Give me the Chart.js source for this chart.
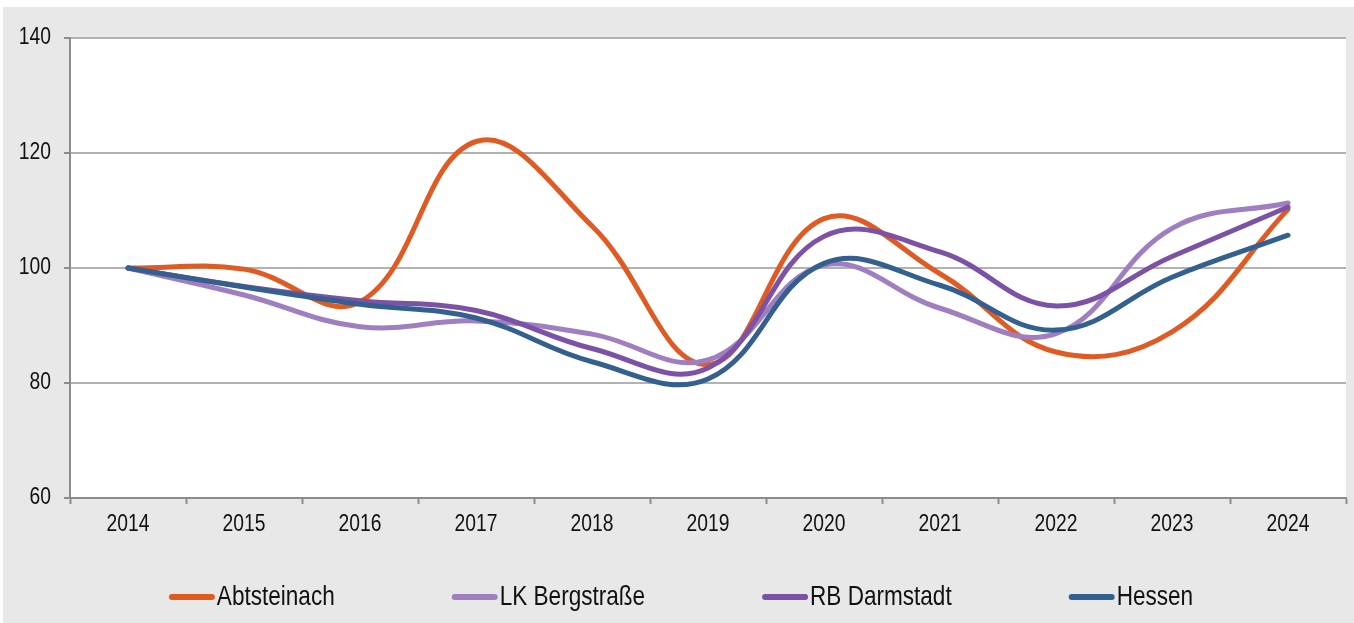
<!DOCTYPE html>
<html>
<head>
<meta charset="utf-8">
<script src="https://cdn.jsdelivr.net/npm/chart.js@4/dist/chart.umd.min.js"></script>
<style>
  html, body { margin: 0; padding: 0; background: #ffffff; }
  #wrap { position: relative; width: 1354px; height: 623px; }
  canvas { display: block; }
</style>
</head>
<body>
<div id="wrap"><canvas id="c" width="1354" height="623"></canvas></div>
<script>
// Index values, 2014 = 100
const years = ['2014', '2015', '2016', '2017', '2018', '2019', '2020', '2021', '2022', '2023', '2024'];
const abtsteinach = [100, 99.8, 94.1, 122.0, 107.3, 83.2, 108.6, 99.0, 85.4, 88.9, 110.2];
const lkBergstrasse = [100, 95.3, 89.8, 90.8, 88.5, 84.0, 100.5, 93.0, 88.6, 106.9, 111.3];
const rbDarmstadt = [100, 96.8, 94.3, 92.6, 86.0, 82.6, 105.5, 102.8, 93.4, 102.0, 110.6];
const hessen = [100, 96.7, 93.7, 91.3, 83.7, 80.7, 100.8, 97.0, 89.2, 98.4, 105.7];
const seriesNames = ['Abtsteinach', 'LK Bergstraße', 'RB Darmstadt', 'Hessen'];
const seriesColors = ['#e05a24', '#9f7fc0', '#7c52a7', '#33608f'];
const yTicks = [60, 80, 100, 120, 140];

const FONT = "'Liberation Sans', Arial, sans-serif";
const NARROW = 0.82;          // horizontal squeeze for a condensed look
const TEXT = '#111111';
const GRID = '#b2b2b2';
const AXIS = '#8c8c8c';

// Condensed text: regular face drawn with a horizontal squeeze
function narrowText(ctx, text, x, y, size, align) {
  ctx.save();
  ctx.font = size + 'px ' + FONT;
  ctx.fillStyle = TEXT;
  ctx.textBaseline = 'middle';
  ctx.textAlign = align;
  ctx.translate(x, y);
  ctx.scale(NARROW, 1);
  ctx.fillText(text, 0, 0);
  ctx.restore();
}
function narrowWidth(ctx, text, size) {
  ctx.save();
  ctx.font = size + 'px ' + FONT;
  const w = ctx.measureText(text).width * NARROW;
  ctx.restore();
  return w;
}

// Grey frame behind the white plot area
const frame = {
  id: 'frame',
  beforeDraw(chart) {
    const { ctx, chartArea: a } = chart;
    ctx.save();
    ctx.fillStyle = '#ffffff';
    ctx.fillRect(0, 0, chart.width, chart.height);
    ctx.fillStyle = '#e8e8e8';
    ctx.fillRect(3, 7, chart.width - 3, chart.height - 7);
    ctx.fillStyle = '#ffffff';
    ctx.fillRect(a.left, a.top, a.right - a.left, a.bottom - a.top);
    ctx.restore();
  }
};

// Axis labels in the condensed face, placed at the scales' own tick positions
const axisLabels = {
  id: 'axisLabels',
  afterDraw(chart) {
    const { ctx } = chart;
    const xs = chart.scales.x, ys = chart.scales.y;
    xs.ticks.forEach((t, i) => {
      narrowText(ctx, xs.getLabelForValue(t.value), xs.getPixelForTick(i), xs.top + 27, 23.5, 'center');
    });
    ys.ticks.forEach(t => {
      narrowText(ctx, String(t.value), ys.right - 19, ys.getPixelForValue(t.value), 23.5, 'right');
    });
  }
};

// Legend row below the axis: short thick line followed by the series name
const lineLegend = {
  id: 'lineLegend',
  afterDraw(chart) {
    const { ctx } = chart;
    const sw = 46, gap = 2, spacing = 117, cy = 597, size = 27.5;
    const widths = seriesNames.map(n => sw + gap + narrowWidth(ctx, n, size));
    const total = widths.reduce((s, w) => s + w, 0) + spacing * (widths.length - 1);
    let x = 681 - total / 2;
    seriesNames.forEach((name, i) => {
      ctx.save();
      ctx.strokeStyle = seriesColors[i];
      ctx.lineWidth = 6;
      ctx.lineCap = 'round';
      ctx.beginPath();
      ctx.moveTo(x + 3, cy);
      ctx.lineTo(x + sw - 3, cy);
      ctx.stroke();
      ctx.restore();
      narrowText(ctx, name, x + sw + gap, cy, size, 'left');
      x += widths[i] + spacing;
    });
  }
};

const allSeries = [abtsteinach, lkBergstrasse, rbDarmstadt, hessen];
const datasets = allSeries.map((data, i) => ({
  label: seriesNames[i],
  data: data,
  borderColor: seriesColors[i],
  backgroundColor: seriesColors[i],
  borderWidth: 5,
  borderCapStyle: 'round',
  borderJoinStyle: 'round',
  pointRadius: 0,
  pointHoverRadius: 0,
  tension: 0.4,
  fill: false,
  order: allSeries.length - i
}));

new Chart(document.getElementById('c'), {
  type: 'line',
  data: { labels: years, datasets },
  options: {
    responsive: false,
    animation: false,
    events: [],
    layout: { padding: { left: 0, right: 8, top: 38, bottom: 0 } },
    plugins: { legend: { display: false }, tooltip: { enabled: false }, title: { display: false } },
    scales: {
      x: {
        offset: true,
        grid: {
          offset: true,
          drawOnChartArea: false,
          drawTicks: true,
          tickLength: 6,
          tickColor: AXIS,
          tickWidth: 2
        },
        border: { display: true, color: AXIS, width: 2 },
        ticks: { display: false, autoSkip: false, maxRotation: 0 },
        afterFit(s) { s.height = 125; }
      },
      y: {
        min: 60,
        max: 140,
        afterBuildTicks(s) { s.ticks = yTicks.map(v => ({ value: v })); },
        grid: {
          color: GRID,
          lineWidth: 2,
          drawTicks: true,
          tickLength: 6,
          tickColor: AXIS,
          tickWidth: 2
        },
        border: { display: true, color: AXIS, width: 2 },
        ticks: { display: false },
        afterFit(s) { s.width = 70; }
      }
    }
  },
  plugins: [frame, axisLabels, lineLegend]
});
</script>
</body>
</html>
